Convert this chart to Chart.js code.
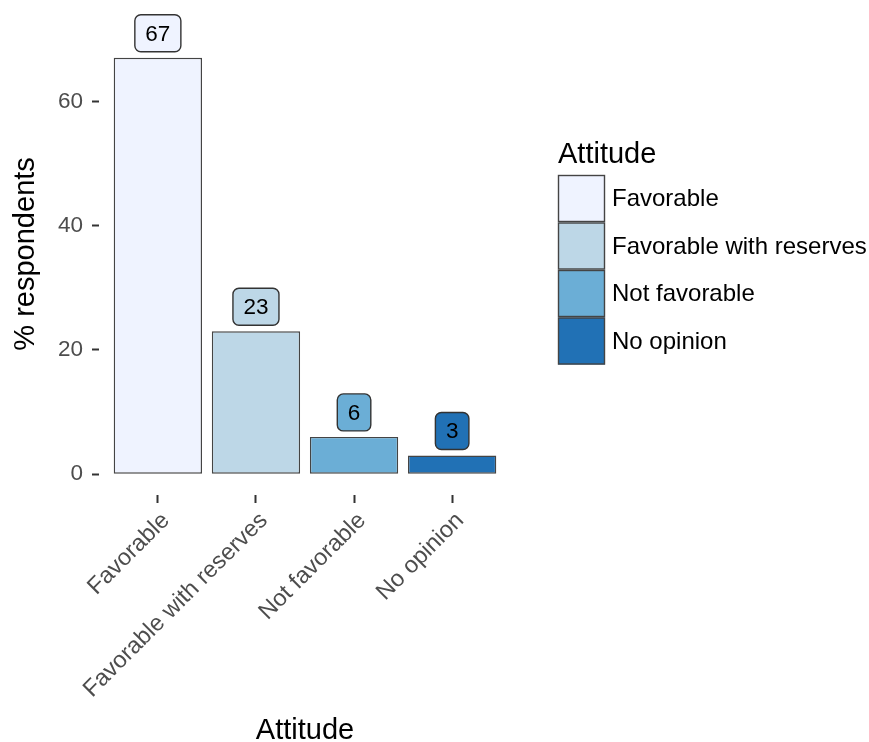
<!DOCTYPE html>
<html>
<head>
    <meta charset="UTF-8">
    <title>Attitude - % respondents</title>
    <script src="https://cdn.jsdelivr.net/npm/chart.js@4/dist/chart.umd.min.js"></script>
    <style>
        body { margin: 0; background: #ffffff; }
    </style>
</head>
<body>
    <canvas id="myChart" width="869" height="742"></canvas>
    <script type="text/javascript">
        // data
        var categories = ["Favorable", "Favorable with reserves", "Not favorable", "No opinion"];
        var percents = [67, 23, 6, 3];
        var fillColors = ["#EFF3FF", "#BDD7E7", "#6BAED6", "#2171B5"];
        var yTicks = [0, 20, 40, 60];

        var FONT = "'Liberation Sans', Arial, Helvetica, sans-serif";
        var EDGE = "#444444";

        // value boxes above the bars (like geom_label)
        var valueLabels = {
            id: "valueLabels",
            afterDatasetsDraw: function (chart) {
                var ctx = chart.ctx;
                var meta = chart.getDatasetMeta(0);
                ctx.save();
                ctx.font = "22.5px " + FONT;
                ctx.textAlign = "center";
                ctx.textBaseline = "middle";
                meta.data.forEach(function (bar, i) {
                    var txt = String(percents[i]);
                    var w = ctx.measureText(txt).width + 21;
                    var h = 37;
                    var bottom = bar.y - 6;
                    ctx.beginPath();
                    ctx.roundRect(bar.x - w / 2, bottom - h, w, h, 6);
                    ctx.fillStyle = fillColors[i];
                    ctx.fill();
                    ctx.lineWidth = 1.4;
                    ctx.strokeStyle = "#333333";
                    ctx.stroke();
                    ctx.fillStyle = "#000000";
                    ctx.fillText(txt, bar.x, bottom - h / 2 + 1);
                });
                ctx.restore();
            }
        };

        // legend on the right, squares stacked like ggplot
        var sideLegend = {
            id: "sideLegend",
            afterDraw: function (chart) {
                var ctx = chart.ctx;
                var x0 = 558, y0 = 175, size = 47, step = 47.5;
                ctx.save();
                ctx.fillStyle = "#000000";
                ctx.font = "29px " + FONT;
                ctx.textAlign = "left";
                ctx.textBaseline = "alphabetic";
                ctx.fillText("Attitude", x0, 163);
                ctx.font = "24px " + FONT;
                ctx.textBaseline = "middle";
                for (var i = 0; i < categories.length; i++) {
                    var y = y0 + i * step;
                    ctx.fillStyle = fillColors[i];
                    ctx.fillRect(x0, y, size, size);
                    ctx.lineWidth = 1.4;
                    ctx.strokeStyle = EDGE;
                    ctx.strokeRect(x0 + 0.5, y + 0.5, size - 1, size - 1);
                    ctx.fillStyle = "#000000";
                    ctx.fillText(categories[i], x0 + size + 7, y + size / 2 + 1);
                }
                ctx.restore();
            }
        };

        new Chart("myChart", {
            type: "bar",
            data: {
                datasets: [{
                    data: categories.map(function (c, i) { return { x: i + 1, y: percents[i] }; }),
                    backgroundColor: fillColors,
                    borderColor: EDGE,
                    borderWidth: 1.4,
                    borderSkipped: false,
                    categoryPercentage: 0.9,
                    barPercentage: 1.0
                }]
            },
            options: {
                responsive: false,
                animation: false,
                devicePixelRatio: 1,
                layout: { padding: { top: 37, right: 358, left: 0, bottom: 0 } },
                plugins: {
                    legend: { display: false },
                    tooltip: { enabled: false }
                },
                scales: {
                    x: {
                        type: "linear",
                        min: 0.4,
                        max: 4.6,
                        offset: false,
                        border: { display: false },
                        grid: {
                            offset: false,
                            drawOnChartArea: false,
                            drawTicks: true,
                            tickLength: 8,
                            tickWidth: 2,
                            tickColor: "#333333"
                        },
                        afterBuildTicks: function (scale) {
                            scale.ticks = categories.map(function (c, i) { return { value: i + 1 }; });
                        },
                        afterFit: function (scale) { scale.height = 247; },
                        ticks: {
                            autoSkip: false,
                            maxRotation: 45,
                            minRotation: 45,
                            padding: 4,
                            labelOffset: 8,
                            color: "#4d4d4d",
                            font: { family: FONT, size: 23.5 },
                            callback: function (v) { return categories[v - 1]; }
                        },
                        title: {
                            display: true,
                            text: "Attitude",
                            color: "#000000",
                            font: { family: FONT, size: 29, lineHeight: 0.76 },
                            padding: { top: 0, bottom: 0 }
                        }
                    },
                    y: {
                        min: -3.35,
                        max: 70.35,
                        border: { display: false },
                        grid: {
                            drawOnChartArea: false,
                            drawTicks: true,
                            tickLength: 7,
                            tickWidth: 2,
                            tickColor: "#333333"
                        },
                        afterBuildTicks: function (scale) {
                            scale.ticks = yTicks.map(function (v) { return { value: v }; });
                        },
                        afterFit: function (scale) { scale.width = 99; },
                        ticks: {
                            padding: 9,
                            color: "#4d4d4d",
                            font: { family: FONT, size: 22.5 }
                        },
                        title: {
                            display: true,
                            // leading spaces nudge the title up a bit, as in the original
                            text: "   % respondents",
                            color: "#000000",
                            font: { family: FONT, size: 29 },
                            padding: { top: 9, bottom: 0 }
                        }
                    }
                }
            },
            plugins: [valueLabels, sideLegend]
        });
    </script>
</body>
</html>
